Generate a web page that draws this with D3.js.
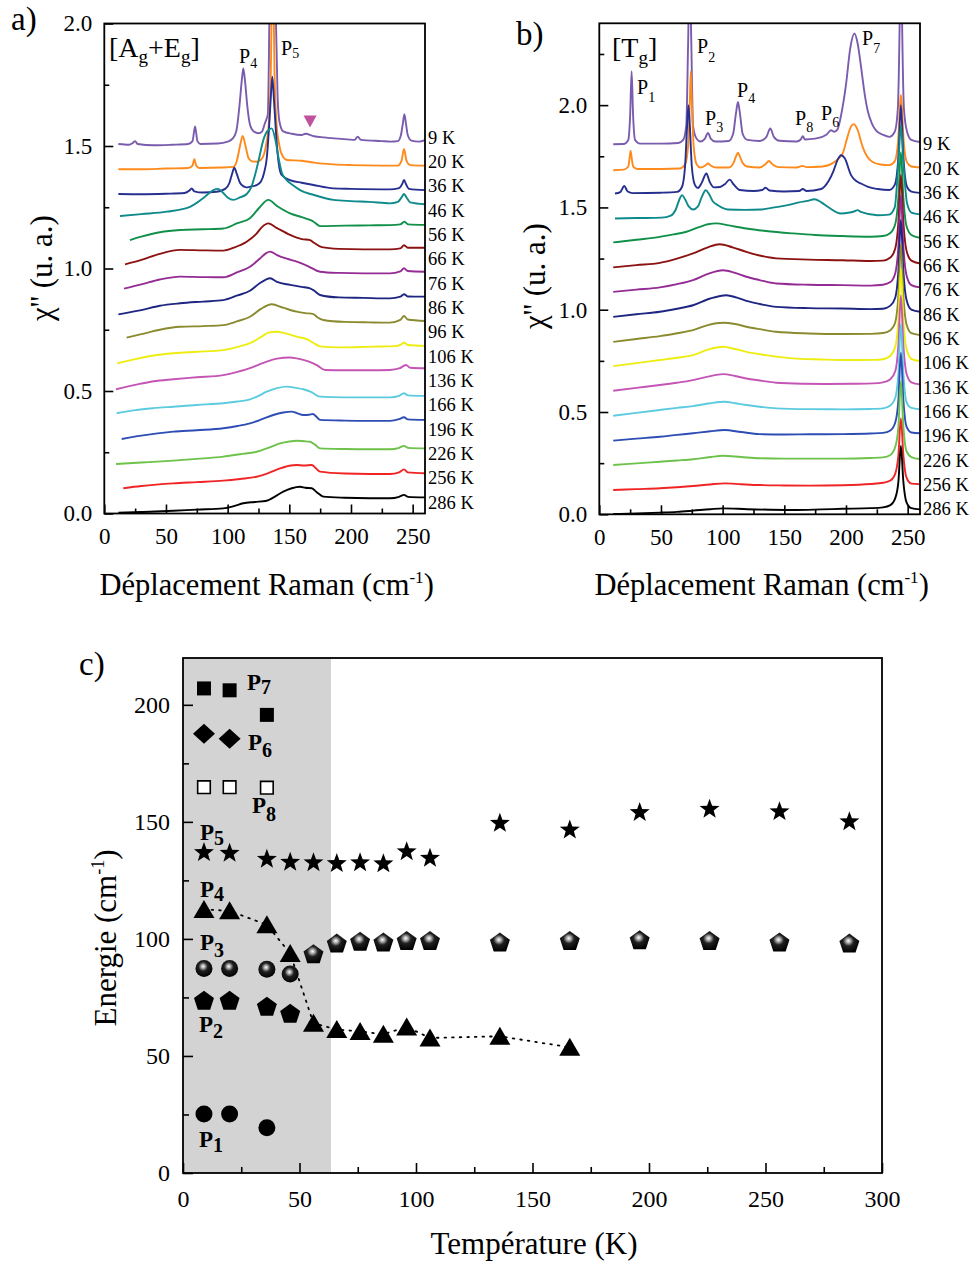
<!DOCTYPE html>
<html><head><meta charset="utf-8">
<script src="https://cdn.jsdelivr.net/npm/d3@7"></script>
<style>
body{margin:0;background:#fff}
svg{display:block}
text{font-family:"Liberation Serif","Times New Roman",serif;fill:#000}
</style>
</head><body>
<svg id="fig" width="976" height="1265"></svg>
<script>
// ---------------- DATA ----------------
const temps = ["9 K","20 K","36 K","46 K","56 K","66 K","76 K","86 K","96 K","106 K","136 K","166 K","196 K","226 K","256 K","286 K"];
const curveColors = ["#7a5cae","#ff8a1c","#262f8f","#0f8a8a","#11904a","#8c1212","#942c94","#1e2682","#8a8a2e","#eded12","#c455b4","#5ccbe0","#2d4db5","#6cc24a","#f02424","#000000"];

// Panel a : [A_g+E_g] spectra, [Raman shift cm-1, chi'' (offset)]
const a9 = [[11.4,1.508],[20,1.505],[23,1.512],[25,1.52],[27,1.508],[40,1.503],[55,1.505],[68,1.508],[71.5,1.52],[73.6,1.58],[75.5,1.52],[78,1.508],[92,1.51],[100,1.518],[104,1.53],[107,1.56],[109.5,1.66],[111.5,1.77],[112.7,1.817],[114,1.77],[116,1.66],[118,1.59],[121,1.56],[125,1.552],[128,1.56],[130,1.59],[131.5,1.61],[132.6,1.63],[133.8,2.0],[135,2.5],[136.5,2.9],[138,2.5],[139.2,2.0],[140.5,1.7],[142,1.6],[145,1.56],[152,1.55],[160,1.545],[163,1.55],[170,1.54],[178,1.535],[190,1.53],[203,1.525],[205.5,1.538],[208,1.525],[225,1.52],[232,1.518],[238,1.52],[240.5,1.545],[242,1.59],[243.3,1.63],[244.6,1.59],[246,1.545],[249,1.522],[255,1.518],[260,1.524]];
const a20 = [[11.4,1.405],[30,1.405],[50,1.408],[68,1.41],[71.5,1.42],[73,1.446],[74.5,1.42],[77,1.41],[95,1.412],[104.6,1.415],[107.5,1.44],[110,1.5],[112.2,1.541],[114.5,1.5],[117,1.45],[120,1.437],[124,1.436],[128,1.45],[131,1.5],[133.5,1.6],[135,1.8],[135.8,2.1],[136.5,2.5],[137.2,2.1],[138,1.8],[139.5,1.6],[142,1.5],[145,1.455],[148,1.443],[160,1.44],[170,1.432],[185.7,1.425],[200,1.422],[225,1.42],[238,1.42],[241,1.44],[243,1.488],[245,1.44],[248,1.422],[260,1.42]];
const a36 = [[11.4,1.304],[30,1.303],[50,1.305],[65,1.308],[69,1.318],[70.8,1.327],[73,1.315],[80,1.31],[91,1.313],[98,1.325],[101.5,1.35],[103.5,1.385],[105.4,1.411],[107.5,1.385],[110,1.35],[113,1.335],[115.4,1.331],[119,1.335],[123.5,1.34],[127,1.355],[129.5,1.39],[131.7,1.45],[133.5,1.57],[135,1.7],[136.2,1.783],[137.4,1.7],[139,1.57],[140.5,1.47],[142,1.41],[143.8,1.382],[150.6,1.361],[160,1.35],[169.5,1.341],[185.7,1.327],[200,1.325],[231.6,1.323],[239,1.328],[241.5,1.345],[243,1.361],[244.5,1.345],[247,1.325],[260,1.32]];
const a46 = [[12.7,1.214],[30,1.222],[50.6,1.232],[69.5,1.252],[81.6,1.293],[88.4,1.32],[92.4,1.325],[96,1.31],[100,1.29],[104.6,1.28],[110,1.29],[115.5,1.304],[119,1.33],[122.2,1.382],[125.5,1.45],[128.9,1.524],[132,1.56],[135.7,1.572],[138.5,1.53],[141.1,1.456],[144,1.39],[147.9,1.361],[153,1.34],[158.7,1.32],[170,1.3],[185.7,1.28],[200,1.275],[215,1.272],[231.6,1.266],[238,1.272],[241,1.29],[243,1.304],[245,1.29],[248,1.27],[260,1.262]];
const a56 = [[20.8,1.116],[30,1.13],[45,1.148],[61.4,1.157],[80,1.16],[96.5,1.163],[108,1.185],[118.1,1.205],[126,1.25],[133,1.28],[140,1.255],[150.6,1.225],[160,1.21],[166.8,1.198],[170,1.19],[174.9,1.173],[195,1.175],[215,1.176],[231.6,1.177],[240,1.18],[243.3,1.191],[246.5,1.18],[260,1.178]];
const a66 = [[16.8,1.017],[30,1.035],[45,1.06],[61.4,1.076],[80,1.074],[96.5,1.073],[105,1.085],[115.4,1.109],[123,1.14],[128,1.17],[133,1.184],[140,1.165],[150.6,1.137],[160,1.12],[166.8,1.116],[170,1.105],[176.3,1.087],[190,1.08],[210,1.078],[231.6,1.078],[240,1.082],[243,1.095],[246,1.085],[260,1.085]];
const a76 = [[16,0.918],[30,0.935],[45,0.955],[61.4,0.967],[80,0.965],[96.5,0.964],[108,0.985],[118.1,1.007],[126,1.04],[131,1.062],[134.4,1.069],[140,1.055],[148,1.04],[156,1.028],[165,1.01],[174.9,0.987],[190,0.982],[210,0.98],[231.6,0.98],[240,0.988],[243,1.001],[246,0.99],[260,0.987]];
const a86 = [[11.4,0.813],[30,0.83],[45,0.848],[61.4,0.858],[80,0.865],[96.5,0.871],[108,0.89],[118.1,0.909],[126,0.94],[131,0.955],[134.4,0.96],[140,0.945],[150.6,0.933],[160,0.925],[166.8,0.919],[170,0.91],[174.9,0.892],[190,0.882],[210,0.88],[231.6,0.878],[240,0.885],[243,0.895],[246,0.886],[260,0.885]];
const a96 = [[18.1,0.718],[30,0.732],[45,0.75],[61.4,0.762],[80,0.765],[96.5,0.769],[108,0.785],[118.1,0.803],[127,0.835],[135.7,0.854],[145,0.84],[156,0.824],[163,0.818],[169.5,0.814],[173,0.8],[177.6,0.79],[195,0.782],[215,0.78],[231.6,0.779],[240,0.79],[243,0.806],[246,0.792],[260,0.786]];
const a106 = [[10.6,0.613],[25,0.63],[40,0.645],[56,0.654],[75,0.66],[96.5,0.667],[108,0.68],[118.1,0.695],[127,0.72],[133,0.738],[139.8,0.742],[147,0.735],[156,0.722],[165,0.71],[170,0.695],[174.9,0.682],[190,0.678],[218.1,0.681],[236,0.683],[240,0.688],[243,0.697],[246,0.688],[260,0.684]];
const a136 = [[9.5,0.507],[25,0.525],[40,0.54],[56,0.548],[75,0.556],[96.5,0.565],[108,0.578],[118.1,0.593],[125,0.607],[131.7,0.62],[140,0.632],[150.6,0.637],[156,0.633],[161.4,0.627],[166,0.62],[172.2,0.606],[179,0.586],[195,0.585],[215,0.585],[231.6,0.586],[239,0.592],[244.6,0.606],[248,0.595],[260,0.593]];
const a166 = [[10,0.409],[25,0.422],[40,0.43],[56,0.436],[75,0.443],[96.5,0.45],[108,0.457],[118.1,0.466],[125,0.48],[131.7,0.497],[140,0.512],[147.9,0.518],[155,0.513],[161.4,0.507],[168,0.495],[174.9,0.477],[195,0.474],[215,0.474],[231.6,0.474],[239,0.48],[243,0.491],[246,0.482],[260,0.48]];
const a196 = [[14.1,0.304],[30,0.318],[56,0.334],[75,0.34],[96.5,0.348],[108,0.357],[118.1,0.368],[128,0.385],[137,0.402],[145,0.412],[151.9,0.416],[156,0.41],[161.4,0.402],[166,0.403],[169,0.406],[172,0.395],[174.9,0.382],[195,0.379],[215,0.378],[231.6,0.378],[239,0.385],[243,0.393],[246,0.384],[260,0.382]];
const a226 = [[9.5,0.202],[30,0.208],[56,0.216],[75,0.223],[96.5,0.232],[110,0.242],[123.5,0.252],[133,0.268],[142.4,0.286],[150,0.294],[156,0.297],[162,0.295],[166.8,0.293],[171,0.28],[174.9,0.266],[195,0.263],[215,0.262],[231.6,0.262],[239,0.268],[243,0.276],[246,0.268],[260,0.266]];
const a256 = [[15.4,0.103],[30,0.112],[56,0.123],[75,0.128],[96.5,0.134],[110,0.141],[123.5,0.15],[133,0.165],[142.4,0.184],[150,0.195],[156,0.198],[162,0.196],[168.2,0.198],[171.5,0.185],[174.9,0.171],[195,0.163],[215,0.161],[231.6,0.161],[239,0.168],[243,0.18],[246,0.168],[260,0.164]];
const a286 = [[11.4,0.003],[30,0.006],[56,0.011],[75,0.016],[96.5,0.021],[105,0.03],[112.7,0.042],[122,0.047],[131.7,0.052],[138,0.068],[145.1,0.089],[152,0.103],[158.7,0.109],[163,0.105],[168.2,0.103],[172,0.088],[177.6,0.069],[195,0.064],[215,0.062],[231.6,0.062],[239,0.068],[243,0.076],[246,0.068],[260,0.066]];
const spectraA = [a9,a20,a36,a46,a56,a66,a76,a86,a96,a106,a136,a166,a196,a226,a256,a286];
const markerA = [[166.8,1.602]];

// Panel b : [T_g] spectra
const b9 = [[11.3,1.809],[20,1.81],[23.5,1.83],[25,1.95],[26.2,2.166],[27.4,1.95],[29,1.83],[33,1.812],[50,1.812],[64,1.815],[68,1.83],[70.5,1.9],[72,2.3],[73.3,2.7],[74.6,2.3],[76,1.9],[78.5,1.84],[82,1.822],[85.5,1.835],[88.1,1.864],[90.5,1.835],[94,1.822],[105,1.825],[108.5,1.86],[110.8,1.96],[112.4,2.016],[114,1.96],[116.2,1.86],[120,1.83],[130,1.825],[135.5,1.845],[138.6,1.886],[141.5,1.845],[146,1.826],[160,1.822],[163.3,1.832],[165,1.848],[166.7,1.832],[175,1.836],[184,1.855],[187.9,1.877],[190.5,1.87],[193,1.88],[196,1.95],[200,2.1],[203.5,2.28],[206.8,2.35],[209.5,2.3],[212.2,2.187],[215,2.06],[217.5,1.975],[221,1.91],[224.3,1.877],[230,1.855],[235.1,1.845],[239.5,1.87],[242,1.98],[243.5,2.4],[244.5,2.9],[245.5,2.4],[247,1.98],[249.5,1.87],[253,1.83],[260,1.82]];
const b20 = [[11.3,1.682],[20,1.685],[23.5,1.7],[24.5,1.74],[25.4,1.776],[26.3,1.74],[27.5,1.7],[31,1.688],[50,1.688],[65,1.69],[69.5,1.71],[72,1.8],[73.3,2.0],[74.2,2.166],[75.1,2.0],[76.5,1.8],[79,1.71],[82,1.695],[86,1.705],[88.1,1.715],[90.3,1.705],[95,1.695],[105,1.695],[109,1.72],[111,1.752],[112.4,1.767],[113.8,1.752],[116,1.72],[120,1.7],[130,1.695],[134.5,1.71],[137.5,1.727],[140.5,1.71],[145,1.697],[160,1.695],[165,1.703],[168,1.697],[181.1,1.7],[190,1.72],[197.3,1.764],[201,1.84],[204,1.895],[206.2,1.907],[209,1.885],[213.5,1.796],[217,1.75],[221.6,1.722],[228,1.71],[235.1,1.707],[239.5,1.725],[242.2,1.82],[243.8,2.0],[244.5,2.05],[245.2,2.0],[246.8,1.82],[249.5,1.72],[253,1.7],[260,1.695]];
const b36 = [[12.7,1.568],[17,1.575],[20.2,1.605],[23,1.578],[27,1.57],[50,1.572],[63,1.576],[67,1.6],[69.5,1.7],[71.2,1.9],[72.3,2.0],[73.4,1.9],[75,1.7],[77.5,1.61],[80,1.595],[83,1.62],[86.8,1.666],[89.5,1.625],[93,1.598],[98,1.6],[102,1.615],[105.7,1.636],[109,1.612],[114,1.585],[125,1.58],[132,1.585],[134.8,1.596],[138,1.583],[150,1.578],[162,1.58],[165,1.59],[168,1.58],[179.8,1.59],[186,1.63],[190,1.68],[193,1.73],[196,1.755],[199,1.74],[204.1,1.658],[208,1.63],[212.2,1.617],[218,1.6],[225.6,1.59],[235,1.585],[239.5,1.61],[242.5,1.75],[244.5,2.0],[246.5,1.75],[249.5,1.6],[253,1.577],[260,1.571]];
const b46 = [[12.7,1.446],[30,1.448],[50.5,1.45],[58,1.46],[62,1.49],[65,1.54],[67.1,1.56],[69.5,1.54],[72.5,1.505],[76,1.49],[80,1.505],[83,1.55],[86.3,1.584],[89,1.565],[92,1.53],[96.2,1.511],[104.3,1.49],[118,1.488],[131.3,1.49],[142,1.5],[152.8,1.511],[162,1.525],[169,1.532],[174.4,1.54],[180,1.525],[185.2,1.503],[196,1.47],[203,1.475],[206.5,1.48],[209.4,1.487],[212,1.478],[225.6,1.462],[235,1.465],[239.5,1.5],[242.5,1.72],[244.5,1.9],[246.5,1.72],[249.5,1.52],[253,1.475],[260,1.466]];
const b56 = [[11.3,1.329],[30,1.342],[49.1,1.356],[60,1.368],[70.7,1.381],[81.4,1.405],[88,1.418],[94.9,1.422],[105,1.412],[119.2,1.397],[135,1.385],[156.9,1.373],[175,1.365],[197.3,1.36],[220,1.357],[230,1.36],[236,1.375],[240,1.42],[242.5,1.55],[244.5,1.77],[246.5,1.55],[249,1.41],[253,1.365],[260,1.351]];
const b66 = [[11.3,1.207],[30,1.218],[49.1,1.229],[63,1.25],[76,1.275],[88,1.305],[97.6,1.32],[108,1.305],[119.2,1.283],[130,1.265],[143.4,1.251],[170,1.245],[197.3,1.242],[220,1.238],[230,1.24],[236,1.255],[240,1.3],[242.5,1.43],[244.5,1.66],[246.5,1.43],[249,1.29],[253,1.24],[260,1.226]];
const b76 = [[11.3,1.087],[30,1.098],[49.1,1.109],[63,1.125],[76,1.145],[88,1.175],[100.3,1.193],[110,1.18],[119.2,1.161],[130,1.145],[143.4,1.128],[170,1.122],[197.3,1.12],[220,1.118],[230,1.122],[236,1.135],[240,1.18],[242.5,1.31],[244.5,1.56],[246.5,1.31],[249,1.17],[253,1.12],[260,1.109]];
const b86 = [[11.3,0.965],[30,0.978],[49.1,0.99],[63,1.005],[76,1.022],[90,1.055],[103,1.071],[111,1.06],[119.2,1.043],[130,1.028],[143.4,1.014],[170,1.008],[197.3,1.006],[220,1.003],[230,1.005],[236,1.02],[240,1.06],[242.5,1.19],[244.5,1.44],[246.5,1.19],[249,1.05],[253,1.0],[260,0.99]];
const b96 = [[11.3,0.843],[30,0.857],[49.1,0.871],[63,0.885],[76,0.9],[88,0.925],[100.3,0.936],[110,0.93],[119.2,0.917],[130,0.905],[143.4,0.892],[170,0.884],[197.3,0.881],[220,0.882],[230,0.886],[236,0.9],[240,0.94],[242.5,1.07],[244.5,1.32],[246.5,1.07],[249,0.93],[253,0.885],[260,0.876]];
const b106 = [[11.3,0.724],[30,0.739],[49.1,0.754],[63,0.765],[76,0.778],[88,0.805],[100.3,0.819],[110,0.808],[119.2,0.794],[135,0.778],[156.9,0.762],[180,0.757],[200,0.754],[222,0.755],[230,0.758],[236,0.775],[240,0.82],[242.5,0.95],[244.5,1.2],[246.5,0.95],[249,0.81],[253,0.76],[260,0.749]];
const b136 = [[11.3,0.604],[30,0.618],[49.1,0.632],[63,0.643],[76,0.656],[88,0.673],[100.3,0.685],[110,0.676],[119.2,0.664],[130,0.654],[143.4,0.643],[165,0.638],[183.9,0.637],[205,0.638],[222,0.64],[230,0.645],[236,0.66],[240,0.7],[242.5,0.83],[244.5,1.07],[246.5,0.83],[249,0.69],[253,0.645],[260,0.635]];
const b166 = [[11.3,0.482],[30,0.496],[49.1,0.51],[63,0.52],[76,0.529],[90,0.543],[101.6,0.55],[110,0.543],[119.2,0.534],[130,0.526],[143.4,0.518],[170,0.514],[197.3,0.513],[220,0.515],[230,0.518],[236,0.532],[240,0.57],[242.5,0.69],[244.5,0.93],[246.5,0.69],[249,0.55],[253,0.52],[260,0.513]];
const b196 = [[11.3,0.36],[30,0.37],[49.1,0.379],[63,0.388],[76,0.396],[90,0.406],[101.6,0.412],[115,0.402],[129.9,0.392],[150,0.39],[170,0.391],[197.3,0.392],[220,0.395],[230,0.398],[236,0.41],[240,0.45],[242.5,0.56],[244.5,0.79],[246.5,0.56],[249,0.43],[253,0.4],[260,0.396]];
const b226 = [[11.3,0.241],[30,0.249],[49.1,0.257],[63,0.263],[76,0.269],[90,0.28],[100.3,0.286],[115,0.28],[129.9,0.274],[150,0.272],[170,0.272],[197.3,0.272],[220,0.275],[230,0.278],[236,0.29],[240,0.33],[242.5,0.43],[244.5,0.65],[246.5,0.43],[249,0.31],[253,0.28],[260,0.27]];
const b256 = [[11.3,0.119],[30,0.123],[49.1,0.127],[63,0.132],[76,0.138],[90,0.146],[101.6,0.151],[115,0.147],[129.9,0.143],[150,0.141],[170,0.14],[197.3,0.142],[220,0.148],[230,0.154],[236,0.165],[240,0.2],[242.5,0.29],[244.5,0.469],[246.5,0.29],[249,0.18],[253,0.15],[260,0.147]];
const b286 = [[11.3,0.0015],[30,0.004],[49.1,0.008],[63,0.012],[76,0.018],[90,0.025],[100.3,0.029],[120,0.025],[156.9,0.021],[180,0.024],[197.3,0.027],[220,0.03],[230,0.034],[236,0.045],[240,0.08],[242.5,0.16],[244.5,0.334],[246.5,0.16],[249,0.06],[253,0.03],[260,0.024]];
const spectraB = [b9,b20,b36,b46,b56,b66,b76,b86,b96,b106,b136,b166,b196,b226,b256,b286];

// Panel c : mode energies vs temperature [K, cm-1]
const p7 = [[9,207],[20,206.2],[36,195.7]];
const p6 = [[9,187.6],[20,185.5]];
const p8 = [[9,164.8],[20,164.8],[36,164.6]];
const p5 = [[9,137.3],[20,137],[36,134.5],[46,133.2],[56,133],[66,132.6],[76,133],[86,132.5],[96,137.7],[106,134.9],[136,149.8],[166,147],[196,154.4],[226,155.8],[256,154.8],[286,150.5]];
const p4 = [[9,112.6],[20,112],[36,106],[46,93.8],[56,64],[66,61.3],[76,60.5],[86,59.3],[96,62.4],[106,57.7],[136,58.4],[166,53.7]];
const p3 = [[9,87.4],[20,87.4],[36,87],[46,85]];
const p2 = [[9,73.8],[20,73.8],[36,71.2],[46,68.2]];
const p23 = [[56,93.7],[66,98.2],[76,99],[86,98.7],[96,99.3],[106,99.3],[136,98.7],[166,99.3],[196,99.6],[226,99.3],[256,98.7],[286,98.2]];
const p1 = [[9,25.2],[20,25.2],[36,19.3]];
const shadeRange = [0, 63.5];

// ticks
const ticksAB_x = [0,50,100,150,200,250];
const minorAB_x = [25,75,125,175,225];
const ticksA_y = [0,0.5,1,1.5,2];
const minorA_y = [0.25,0.75,1.25,1.75];
const ticksB_y = [0,0.5,1,1.5,2];
const minorB_y = [0.25,0.75,1.25,1.75,2.25];
const ticksC_x = [0,50,100,150,200,250,300];
const minorC_x = [25,75,125,175,225,275];
const ticksC_y = [0,50,100,150,200];
const minorC_y = [25,75,125,175];

// ---------------- DRAWING ----------------
const svg = d3.select("#fig");
const defs = svg.append("defs");

function rich(parent, x, y, segs, extra) {
  const t = parent.append("text").attr("x", x).attr("y", y);
  if (extra) Object.entries(extra).forEach(([k,v]) => t.attr(k, v));
  let cur = 0;
  segs.forEach(s => {
    const d = (s.dy || 0) - cur; cur = s.dy || 0;
    const ts = t.append("tspan").attr("dy", d).attr("font-size", s.size).text(s.t);
    if (s.w) ts.attr("font-weight", s.w);
  });
  return t;
}

function axes(g, x, y, o) {
  const [x0,x1] = x.range(), [y0,y1] = y.range();
  const ax = g.append("g").attr("transform", `translate(0,${y0})`)
    .call(d3.axisBottom(x).tickValues(o.xMajor).tickSize(-o.major).tickPadding(o.xPad).tickFormat(o.xFmt));
  const axm = g.append("g").attr("transform", `translate(0,${y0})`)
    .call(d3.axisBottom(x).tickValues(o.xMinor).tickSize(-o.minor).tickFormat(""));
  const ay = g.append("g").attr("transform", `translate(${x0},0)`)
    .call(d3.axisLeft(y).tickValues(o.yMajor).tickSize(-o.major).tickPadding(o.yPad).tickFormat(o.yFmt));
  const aym = g.append("g").attr("transform", `translate(${x0},0)`)
    .call(d3.axisLeft(y).tickValues(o.yMinor).tickSize(-o.minor).tickFormat(""));
  [ax,axm,ay,aym].forEach(a => {
    a.select(".domain").remove();
    a.selectAll("line").attr("stroke", "#000").attr("stroke-width", 1.6);
    a.selectAll("text").attr("font-size", o.fs).attr("font-family", '"Liberation Serif","Times New Roman",serif').attr("fill", "#000");
  });
  g.append("rect").attr("x", x0).attr("y", y1).attr("width", x1 - x0).attr("height", y0 - y1)
    .attr("fill", "none").attr("stroke", "#000").attr("stroke-width", 1.8);
}

function spectraPanel(o) {
  const g = svg.append("g");
  const x = d3.scaleLinear([0,260], [o.left, o.right]);
  const y = d3.scaleLinear([0,o.yMax], [o.bottom, o.top]);
  defs.append("clipPath").attr("id", o.id).append("rect")
    .attr("x", o.left).attr("y", o.top).attr("width", o.right - o.left).attr("height", o.bottom - o.top);
  const line = d3.line().x(d => x(d[0])).y(d => y(d[1])).curve(d3.curveMonotoneX);
  const cg = g.append("g").attr("clip-path", `url(#${o.id})`);
  o.series.forEach((s, i) => {
    cg.append("path").attr("d", line(s)).attr("fill", "none")
      .attr("stroke", curveColors[i]).attr("stroke-width", 1.9).attr("stroke-linejoin", "round");
  });
  axes(g, x, y, {xMajor: ticksAB_x, xMinor: minorAB_x, yMajor: o.yMajor, yMinor: o.yMinor,
    major: 9, minor: 5, xPad: 14, yPad: 12, xFmt: d3.format("d"), yFmt: d3.format(".1f"), fs: 23});
  temps.forEach((t, i) => {
    g.append("text").attr("x", o.right + 3).attr("y", o.labelTop + i * 24.33).attr("dy", "0.35em")
      .attr("font-size", 18.5).text(t);
  });
  rich(g, (o.left + o.right) / 2 + 2, 595, [{t:"Déplacement Raman (cm", size:30.5},{t:"-1", size:17, dy:-12},{t:")", size:30.5, dy:0}], {"text-anchor":"middle"});
  g.append("text").attr("transform", `translate(${o.yTitleX},${o.yTitleY}) rotate(-90)`)
    .attr("text-anchor", "middle").attr("font-size", 31).text("χ'' (u. a.)");
  return {g, x, y};
}

// Panel a
const A = spectraPanel({id:"clipA", left:104.3, right:425, top:23.5, bottom:513.5, yMax:2,
  series: spectraA, yMajor: ticksA_y, yMinor: minorA_y, labelTop: 137.2, yTitleX: 52, yTitleY: 268});
A.g.selectAll(".mk").data(markerA).enter().append("path")
  .attr("transform", d => `translate(${A.x(d[0])},${A.y(d[1])})`)
  .attr("d", "M-6.5,-5.5L6.5,-5.5L0,6.5Z").attr("fill", "#c0519e");
svg.append("text").attr("x", 11).attr("y", 30).attr("font-size", 33).text("a)");
rich(A.g, 109, 57, [{t:"[A", size:28},{t:"g", size:19, dy:6},{t:"+E", size:28, dy:0},{t:"g", size:19, dy:6},{t:"]", size:28, dy:0}]);
rich(A.g, 239, 63, [{t:"P", size:20},{t:"4", size:14, dy:5}]);
rich(A.g, 281, 55, [{t:"P", size:20},{t:"5", size:14, dy:3}]);

// Panel b
const B = spectraPanel({id:"clipB", left:599.3, right:920, top:23.3, bottom:514.3, yMax:2.4,
  series: spectraB, yMajor: ticksB_y, yMinor: minorB_y, labelTop: 144, yTitleX: 545, yTitleY: 276});
svg.append("text").attr("x", 516).attr("y", 45).attr("font-size", 33).text("b)");
rich(B.g, 612, 57, [{t:"[T", size:28},{t:"g", size:19, dy:7},{t:"]", size:28, dy:0}]);
const pLabB = [["1",637,94,8],["2",697,53,9],["3",705,125,7],["4",737,97,6],["8",795,125,7],["6",821,120,7],["7",862,45,8]];
pLabB.forEach(p => rich(B.g, p[1], p[2], [{t:"P", size:20},{t:p[0], size:14, dy:p[3]}]));

// Panel c
const gC = svg.append("g");
const xC = d3.scaleLinear([0,300], [183,882]);
const yC = d3.scaleLinear([0,220], [1173,658]);
gC.append("rect").attr("x", xC(shadeRange[0])).attr("y", yC(220)).attr("width", xC(shadeRange[1]) - xC(shadeRange[0]))
  .attr("height", yC(0) - yC(220)).attr("fill", "#d3d3d3");

const grad = defs.append("radialGradient").attr("id", "sph").attr("cx", "45%").attr("cy", "40%").attr("r", "60%").attr("fx","45%").attr("fy","38%");
grad.append("stop").attr("offset", "0%").attr("stop-color", "#ffffff");
grad.append("stop").attr("offset", "18%").attr("stop-color", "#b0b0b0");
grad.append("stop").attr("offset", "45%").attr("stop-color", "#202020");
grad.append("stop").attr("offset", "100%").attr("stop-color", "#000000");

gC.append("path").attr("d", d3.line().x(d => xC(d[0])).y(d => yC(d[1]))(p4))
  .attr("fill", "none").attr("stroke", "#000").attr("stroke-width", 1.8)
  .attr("stroke-dasharray", "1.6,6").attr("stroke-linecap", "round");

function starPath(R, r) {
  const pts = [];
  for (let k = 0; k < 10; k++) {
    const a = -Math.PI / 2 + k * Math.PI / 5, rr = k % 2 ? r : R;
    pts.push([rr * Math.cos(a), rr * Math.sin(a) + 1]);
  }
  return "M" + pts.map(p => p[0].toFixed(2) + "," + p[1].toFixed(2)).join("L") + "Z";
}
function pentPath(R) {
  const pts = [];
  for (let k = 0; k < 5; k++) {
    const a = -Math.PI / 2 + k * 2 * Math.PI / 5;
    pts.push([R * Math.cos(a), R * Math.sin(a) + 1]);
  }
  return "M" + pts.map(p => p[0].toFixed(2) + "," + p[1].toFixed(2)).join("L") + "Z";
}
const sym = {
  square: "M-7,-7h14v14h-14Z",
  osquare: "M-6.3,-6.3h12.6v12.6h-12.6Z",
  diamond: "M0,-10L11,0L0,10L-11,0Z",
  star: starPath(10.5, 4.3),
  tri: "M0,-9.5L10.5,8.5L-10.5,8.5Z",
  pent: pentPath(10.5),
  circle: "M-8.5,0a8.5,8.5 0 1,0 17,0a8.5,8.5 0 1,0 -17,0Z"
};
function markers(data, d, fill, stroke, sw) {
  gC.append("g").selectAll("path").data(data).enter().append("path")
    .attr("transform", p => `translate(${xC(p[0])},${yC(p[1])})`)
    .attr("d", d).attr("fill", fill).attr("stroke", stroke || "none").attr("stroke-width", sw || 0);
}
markers(p7, sym.square, "#000");
markers(p6, sym.diamond, "#000");
markers(p8, sym.osquare, "#fff", "#000", 1.6);
markers(p5, sym.star, "#000");
markers(p4, sym.tri, "#000");
markers(p3, sym.circle, "url(#sph)");
markers(p2, sym.pent, "#000");
markers(p23, sym.pent, "url(#sph)");
markers(p1, sym.circle, "#000");

axes(gC, xC, yC, {xMajor: ticksC_x, xMinor: minorC_x, yMajor: ticksC_y, yMinor: minorC_y,
  major: 10, minor: 6, xPad: 17, yPad: 13, xFmt: d3.format("d"), yFmt: d3.format("d"), fs: 24});

const pLabC = [["7",247,690,4],["6",248,750,7],["8",252,813,8],["5",200,840,5],["4",200,897,4],["3",200,950,7],["2",199,1032,6],["1",199,1147,5]];
pLabC.forEach(p => rich(gC, p[1], p[2], [{t:"P", size:23, w:"bold"},{t:p[0], size:20, dy:p[3], w:"bold"}]));
svg.append("text").attr("x", 79).attr("y", 675).attr("font-size", 33).text("c)");
rich(gC, 534, 1254, [{t:"Température (K)", size:31}], {"text-anchor":"middle"});
rich(gC, 0, 0, [{t:"Energie (cm", size:31},{t:"-1", size:18, dy:-12},{t:")", size:31, dy:0}],
  {"text-anchor":"middle", "transform":"translate(116,938) rotate(-90)"});
</script>
</body></html>
